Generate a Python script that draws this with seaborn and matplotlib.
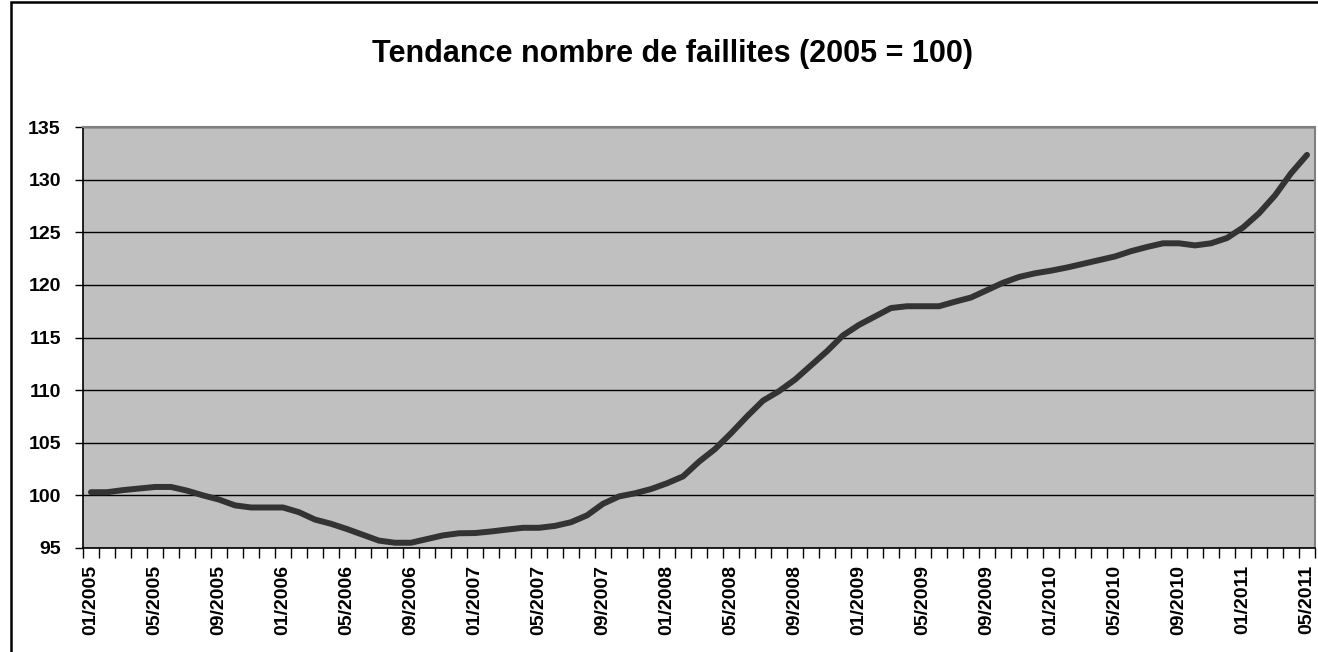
import numpy as np
import pandas as pd
import seaborn as sns
import matplotlib.pyplot as plt
from matplotlib.patches import Rectangle

# indice mensuel du nombre de faillites, 01/2005 -> 05/2011
months = pd.date_range('2005-01-01', periods=77, freq='MS').strftime('%m/%Y').tolist()
values = [100.3, 100.3, 100.5, 100.65, 100.8, 100.8, 100.45, 100.0, 99.6, 99.05,
          98.85, 98.85, 98.85, 98.4, 97.7, 97.3, 96.8, 96.25, 95.7, 95.5,
          95.5, 95.85, 96.2, 96.4, 96.42, 96.57, 96.75, 96.92, 96.92, 97.1,
          97.45, 98.1, 99.2, 99.9, 100.2, 100.6, 101.15, 101.8, 103.2, 104.4,
          105.9, 107.5, 109.0, 109.9, 111.0, 112.35, 113.7, 115.2, 116.2, 117.0,
          117.8, 117.97, 117.97, 117.97, 118.4, 118.8, 119.5, 120.2, 120.75, 121.1,
          121.35, 121.65, 122.0, 122.35, 122.7, 123.2, 123.6, 123.95, 123.95, 123.75,
          123.95, 124.45, 125.45, 126.8, 128.5, 130.6, 132.35]
tick_labels = ['01/2005', '05/2005', '09/2005', '01/2006', '05/2006', '09/2006',
               '01/2007', '05/2007', '09/2007', '01/2008', '05/2008', '09/2008',
               '01/2009', '05/2009', '09/2009', '01/2010', '05/2010', '09/2010',
               '01/2011', '05/2011']
y_ticks = [95, 100, 105, 110, 115, 120, 125, 130, 135]

df = pd.DataFrame({'mois': months, 'indice': values})
df['pos'] = np.arange(len(df))

sns.set_style('white')
plt.rcParams['font.family'] = ['Liberation Sans', 'DejaVu Sans']
plt.rcParams['font.weight'] = 'bold'
plt.rcParams['text.color'] = 'black'
plt.rcParams['xtick.color'] = 'black'
plt.rcParams['ytick.color'] = 'black'

fig = plt.figure(figsize=(13.18, 6.52), dpi=100)
ax = fig.add_axes([83 / 1318, 1 - 548 / 652, (1315 - 83) / 1318, (548 - 127) / 652])
ax.set_facecolor('#c0c0c0')

sns.lineplot(data=df, x='pos', y='indice', ax=ax, color='#333333', linewidth=4.3,
             solid_capstyle='round', solid_joinstyle='round', zorder=3)

ax.set_xlim(-0.5, len(df) - 0.5)
ax.set_ylim(95, 135)
ax.set_yticks(y_ticks)
ax.set_yticklabels([str(v) for v in y_ticks], fontsize=14, fontweight='bold', color='black')
ax.yaxis.grid(True, color='black', linewidth=1)
ax.set_axisbelow(True)

pos_labels = [months.index(t) for t in tick_labels]
ax.set_xticks(pos_labels)
ax.set_xticklabels(tick_labels, rotation=90, fontsize=14, fontweight='bold', color='black')
ax.set_xticks(np.arange(-0.5, len(df)), minor=True)
ax.tick_params(axis='x', which='major', length=0, pad=12, bottom=True)
ax.tick_params(axis='x', which='minor', length=7, width=1, color='black', direction='out', bottom=True)
ax.tick_params(axis='y', length=6, width=1, color='black', direction='out', pad=10, left=True)
ax.set_xlabel('')
ax.set_ylabel('')

for side in ['left', 'bottom']:
    ax.spines[side].set_color('black')
    ax.spines[side].set_linewidth(1.2)
for side in ['top', 'right']:
    ax.spines[side].set_color('#808080')
    ax.spines[side].set_linewidth(1.5)

fig.text(672 / 1318, 1 - 54 / 652, 'Tendance nombre de faillites (2005 = 100)',
         ha='center', va='center', fontsize=22, fontweight='bold', color='black')

# cadre du graphique (coupé à droite et en bas)
fig.patches.append(Rectangle((10.5 / 1318, -0.1), 1.2, 1.1 - 2 / 652, transform=fig.transFigure,
                             fill=False, edgecolor='black', linewidth=1.8))

fig.savefig('out.png', dpi=100)
